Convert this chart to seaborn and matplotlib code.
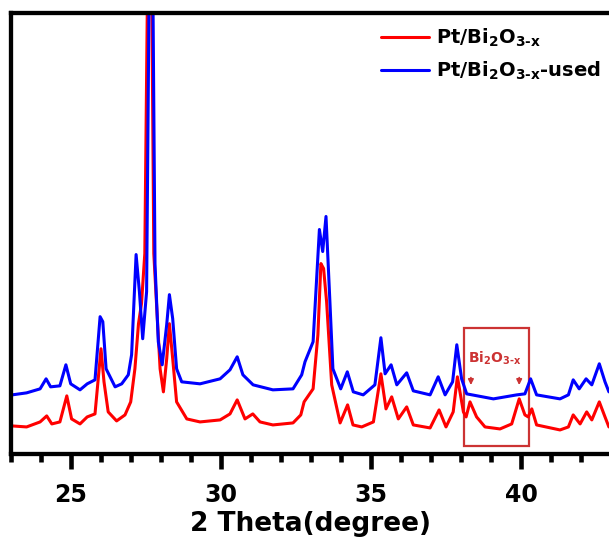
# XRD patterns of Pt/Bi2O3-x before and after use
import matplotlib
matplotlib.use("Agg")
import matplotlib.pyplot as plt
import seaborn as sns
from matplotlib.patches import Rectangle

# values (intensity in a.u.)
theta_fresh = [23.04, 23.52, 23.97, 24.19, 24.36, 24.63, 24.86, 25.02, 25.30, 25.54,
               25.80, 26.00, 26.10, 26.24, 26.52, 26.80, 26.99, 27.13, 27.25, 27.35,
               27.46, 27.63, 27.76, 27.86, 27.97, 28.08, 28.19, 28.28, 28.39, 28.52,
               28.86, 29.30, 29.97, 30.30, 30.54, 30.80, 31.06, 31.30, 31.73, 32.40,
               32.66, 32.77, 33.07, 33.23, 33.33, 33.42, 33.52, 33.69, 33.97, 34.22,
               34.40, 34.69, 35.08, 35.33, 35.50, 35.69, 35.91, 36.19, 36.41, 36.97,
               37.27, 37.50, 37.74, 37.88, 38.08, 38.17, 38.30, 38.52, 38.80, 39.30,
               39.69, 39.94, 40.13, 40.24, 40.36, 40.52, 41.30, 41.58, 41.74, 41.97,
               42.19, 42.36, 42.61, 42.80, 42.93]
int_fresh = [28, 27, 32, 38, 30, 32, 58, 35, 30, 37,
             40, 105, 72, 42, 33, 39, 52, 85, 130, 150,
             200, 700, 200, 145, 85, 62, 95, 130, 95, 52,
             35, 32, 34, 40, 54, 35, 40, 32, 29, 31,
             39, 52, 65, 119, 190, 185, 152, 69, 31, 49,
             29, 27, 32, 80, 45, 57, 35, 47, 29, 26,
             44, 27, 42, 77, 42, 37, 52, 37, 27, 25,
             30, 55, 39, 37, 45, 29, 24, 27, 39, 30,
             42, 34, 52, 37, 27]

theta_used = [23.04, 23.52, 23.97, 24.17, 24.32, 24.63, 24.83, 24.99, 25.30, 25.54,
              25.80, 25.97, 26.06, 26.17, 26.47, 26.69, 26.91, 27.02, 27.17, 27.28,
              27.39, 27.52, 27.67, 27.80, 27.91, 28.04, 28.19, 28.28, 28.39, 28.52,
              28.69, 29.30, 29.97, 30.30, 30.54, 30.73, 31.07, 31.73, 32.40, 32.69,
              32.80, 33.07, 33.28, 33.39, 33.50, 33.63, 33.73, 33.99, 34.21, 34.41,
              34.74, 35.13, 35.33, 35.47, 35.67, 35.86, 36.19, 36.41, 36.97, 37.24,
              37.47, 37.72, 37.86, 38.02, 38.19, 39.08, 39.86, 40.13, 40.32, 40.52,
              41.30, 41.58, 41.74, 41.94, 42.17, 42.36, 42.61, 42.80, 42.93]
int_used = [59, 61, 65, 75, 67, 68, 89, 70, 64, 70,
            74, 137, 132, 85, 67, 70, 79, 99, 199, 162,
            115, 162, 700, 190, 112, 89, 129, 159, 135, 85,
            72, 70, 75, 84, 97, 79, 69, 64, 65, 79,
            92, 112, 224, 202, 237, 152, 85, 65, 82, 62,
            59, 69, 116, 80, 89, 69, 81, 63, 59, 77,
            59, 72, 109, 75, 60, 55, 59, 60, 75, 59,
            55, 59, 74, 65, 75, 69, 90, 72, 62]

labels = [r"Pt/Bi$_2$O$_{3\text{-}x}$", r"Pt/Bi$_2$O$_{3\text{-}x}$-used"]
mark_theta = [38.33, 39.94]

sns.set_style("ticks")
plt.rcParams["font.family"] = ["DejaVu Sans"]
plt.rcParams["font.weight"] = "bold"
plt.rcParams["mathtext.fontset"] = "dejavusans"
plt.rcParams["mathtext.default"] = "bf"
plt.rcParams["axes.edgecolor"] = "black"
plt.rcParams["xtick.color"] = "black"
plt.rcParams["text.color"] = "black"
plt.rcParams["axes.labelcolor"] = "black"

fig = plt.figure(figsize=(6.09, 5.44), dpi=100)
ax = fig.add_axes([11 / 609, 90 / 544, 600 / 609, 441 / 544])

sns.lineplot(x=theta_fresh, y=int_fresh, ax=ax, color="#ff0000", linewidth=2.2,
             label=labels[0])
sns.lineplot(x=theta_used, y=int_used, ax=ax, color="#0000ff", linewidth=2.2,
             label=labels[1])

ax.set_xlim(23, 43)
ax.set_ylim(0, 440)
ax.set_xticks([25, 30, 35, 40])
ax.set_xticks(range(23, 44), minor=True)
ax.set_yticks([])
ax.tick_params(axis="x", which="major", direction="out", length=11, width=3.3,
               labelsize=17, pad=10, colors="black")
ax.tick_params(axis="x", which="minor", direction="out", length=5.5, width=3.3,
               colors="black")
for side in ["left", "bottom", "top"]:
    ax.spines[side].set_linewidth(3.1)
    ax.spines[side].set_color("black")
ax.spines["right"].set_visible(False)
ax.set_xlabel("2 Theta(degree)", fontsize=19, fontweight="bold", labelpad=3,
              color="black")
ax.set_ylabel("")

# Bi2O3-x marker box
box_col = "#cc3333"
ax.add_patch(Rectangle((38.1, 8), 2.18, 118, fill=False, edgecolor=box_col,
                       linewidth=1.6))
ax.text(39.13, 95, r"Bi$_2$O$_{3\text{-}x}$", color=box_col, fontsize=10,
        ha="center", va="center")
for t in mark_theta:
    ax.annotate("", xy=(t, 66), xytext=(t, 79),
                arrowprops=dict(arrowstyle="-|>", color=box_col, lw=1.2,
                                mutation_scale=8))

handles, labs = ax.get_legend_handles_labels()
leg = ax.legend(handles, labs, loc="upper left",
                bbox_to_anchor=(381 / 609, 1 - 27 / 544),
                bbox_transform=fig.transFigure, frameon=False, fontsize=14,
                handlelength=2.45, handletextpad=0.4, labelspacing=0.55,
                borderpad=0, borderaxespad=0)
for txt in leg.get_texts():
    txt.set_color("black")

fig.savefig("out.png", dpi=100)
